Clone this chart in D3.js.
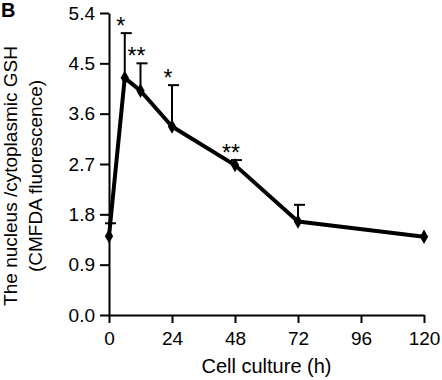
<!DOCTYPE html>
<html>
<head>
<meta charset="utf-8">
<script src="https://cdn.jsdelivr.net/npm/d3@7"></script>
<style>
  body { margin: 0; background: #fff; }
  svg { display: block; font-family: Arial, "Liberation Sans", sans-serif; }
</style>
</head>
<body>
<div id="chart"></div>
<script>
// Data
const hours = [0, 6, 12, 24, 48, 72, 120];
const means = [1.41, 4.24, 4.01, 3.37, 2.68, 1.67, 1.40];
const errs = [0.23, 0.80, 0.49, 0.74, 0.09, 0.30, 0];
const stars = ["", "*", "**", "*", "**", "", ""];
const xTicks = [0, 24, 48, 72, 96, 120];
const yTicks = [0, 0.9, 1.8, 2.7, 3.6, 4.5, 5.4];

const width = 442, height = 380;
const margin = { top: 13, right: 18, bottom: 65, left: 109 };

const data = hours.map((h, i) => ({ h: h, m: means[i], e: errs[i], s: stars[i] }));

const svg = d3.select("#chart").append("svg")
  .attr("width", width)
  .attr("height", height);

const x = d3.scaleLinear()
  .domain([0, 120])
  .range([margin.left, width - margin.right]);

const y = d3.scaleLinear()
  .domain([0, 5.4])
  .range([height - margin.bottom, margin.top]);

// Axes
const xAxis = svg.append("g")
  .attr("transform", `translate(0, ${y(0)})`)
  .call(d3.axisBottom(x).tickValues(xTicks).tickSize(8).tickPadding(9).tickSizeOuter(0));

const yAxis = svg.append("g")
  .attr("transform", `translate(${x(0)}, 0)`)
  .call(d3.axisLeft(y).tickValues(yTicks).tickFormat(d3.format(".1f")).tickSize(9).tickPadding(5).tickSizeOuter(0));

[xAxis, yAxis].forEach(ax => {
  ax.select(".domain").attr("stroke", "#000").attr("stroke-width", 2);
  ax.selectAll(".tick line").attr("stroke", "#000").attr("stroke-width", 2);
  ax.selectAll(".tick text").attr("fill", "#000").style("font-size", "19px");
});

// Error bars (upper only)
const bars = svg.append("g").attr("stroke", "#000").attr("stroke-width", 2);
data.filter(d => d.e > 0).forEach(d => {
  bars.append("line")
    .attr("x1", x(d.h)).attr("x2", x(d.h))
    .attr("y1", y(d.m)).attr("y2", y(d.m + d.e));
  bars.append("line")
    .attr("x1", x(d.h) - 4).attr("x2", x(d.h) + 7)
    .attr("y1", y(d.m + d.e)).attr("y2", y(d.m + d.e));
});

// Line
const line = d3.line().x(d => x(d.h)).y(d => y(d.m));
svg.append("path")
  .datum(data)
  .attr("d", line)
  .attr("fill", "none")
  .attr("stroke", "#000")
  .attr("stroke-width", 4)
  .attr("stroke-linejoin", "round");

// Markers
svg.selectAll(".pt")
  .data(data)
  .join("path")
  .attr("class", "pt")
  .attr("transform", d => `translate(${x(d.h)}, ${y(d.m)})`)
  .attr("d", d3.symbol(d3.symbolDiamond, 60))
  .attr("fill", "#000");

// Significance stars
svg.selectAll(".star")
  .data(data.filter(d => d.s))
  .join("text")
  .attr("class", "star")
  .attr("x", d => x(d.h) - 4)
  .attr("y", d => y(d.m + d.e) + 1)
  .attr("text-anchor", "middle")
  .style("font-size", "23px")
  .text(d => d.s);

// Axis titles
svg.append("text")
  .attr("x", (x(0) + x(120)) / 2)
  .attr("y", 373)
  .attr("text-anchor", "middle")
  .style("font-size", "20px")
  .text("Cell culture (h)");

const yt = svg.append("text")
  .attr("transform", "translate(0, 176) rotate(-90)")
  .attr("text-anchor", "middle")
  .style("font-size", "19px");
yt.append("tspan").attr("x", 0).attr("y", 17).text("The nucleus /cytoplasmic GSH");
yt.append("tspan").attr("x", 0).attr("y", 42).text("(CMFDA fluorescence)");

// Panel letter
svg.append("text")
  .attr("x", 1)
  .attr("y", 17)
  .style("font-size", "20px")
  .style("font-weight", "bold")
  .text("B");
</script>
</body>
</html>
